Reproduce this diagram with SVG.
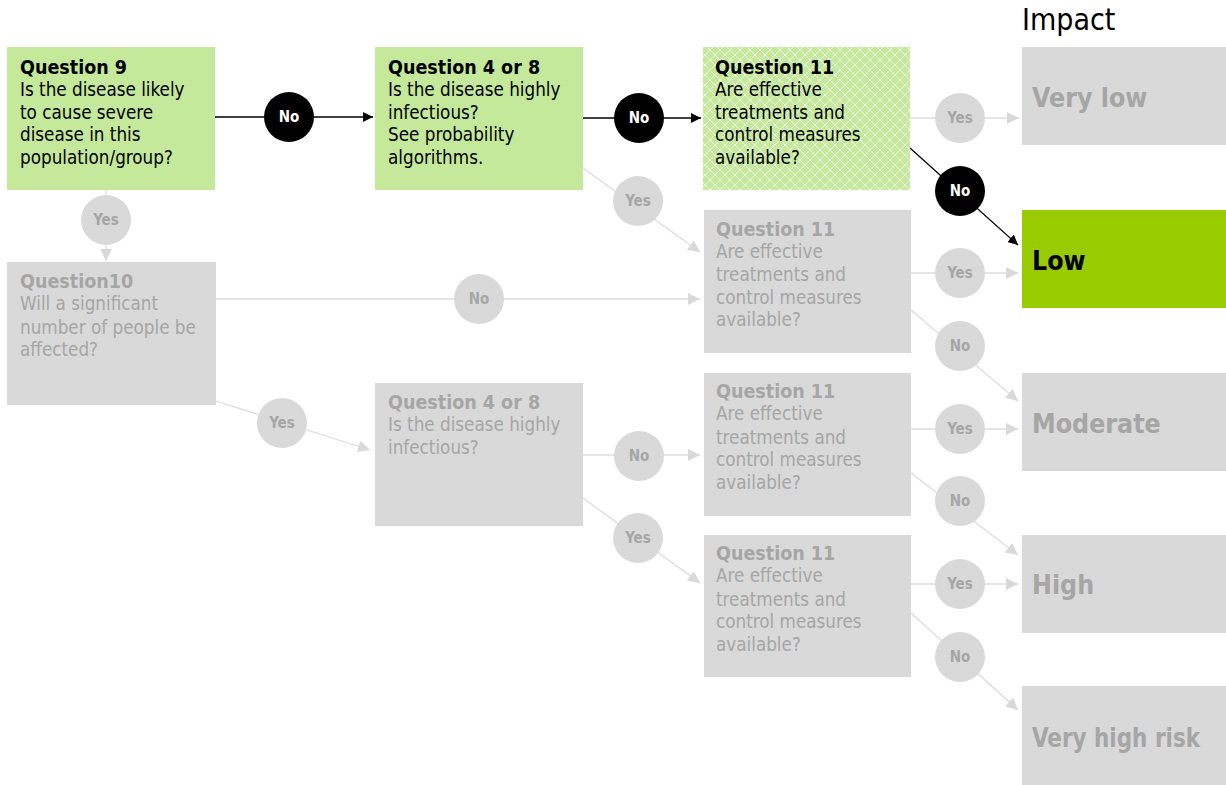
<svg xmlns="http://www.w3.org/2000/svg" width="1226" height="785" viewBox="0 0 1226 785">
<style>
text{font-family:"DejaVu Sans Condensed","DejaVu Sans",Verdana,sans-serif;}
.bt{font-size:18.7px;}
.tt{font-weight:bold;font-size:19.5px;}
.dk{fill:#000;}
.lg{fill:#a6a6a6;}
.gbox{fill:#d9d9d9;}
.green{fill:#c5e99b;}
.cl{font-size:15px;font-weight:bold;text-anchor:middle;}
.out{font-size:26.5px;font-weight:bold;}
.bl{stroke:#000;stroke-width:1.3;fill:none;}
.gl{stroke:#dcdcdc;stroke-width:1.3;fill:none;}
.bc{fill:#000;}
.gc{fill:#d9d9d9;}
</style>
<defs>
<marker id="ab" viewBox="0 0 10 10" refX="10" refY="5" markerWidth="10" markerHeight="10" markerUnits="userSpaceOnUse" orient="auto"><path d="M0,0L10,5L0,10z" fill="#000"/></marker>
<marker id="ag" viewBox="0 0 10 10" refX="10" refY="5" markerWidth="12" markerHeight="12" markerUnits="userSpaceOnUse" orient="auto"><path d="M0,0L10,5L0,10z" fill="#d9d9d9"/></marker>
<pattern id="hatch" width="10" height="10" patternUnits="userSpaceOnUse">
<rect width="10" height="10" fill="#c5e99b"/>
<path d="M0,0L10,10M10,0L0,10" stroke="#ffffff" stroke-opacity="0.75" stroke-width="1"/>
</pattern>
</defs>
<rect width="1226" height="785" fill="#fff"/>

<g id="connectors">
<line class="bl" x1="215" y1="117" x2="373" y2="117" marker-end="url(#ab)"/>
<line class="bl" x1="583" y1="118" x2="701" y2="118" marker-end="url(#ab)"/>
<line class="gl" x1="910" y1="118" x2="1019" y2="118" marker-end="url(#ag)"/>
<line class="bl" x1="910" y1="148" x2="1018" y2="245" marker-end="url(#ab)"/>
<line class="gl" x1="106" y1="190" x2="106" y2="261" marker-end="url(#ag)"/>
<line class="gl" x1="583" y1="168" x2="700" y2="252" marker-end="url(#ag)"/>
<line class="gl" x1="216" y1="299" x2="700" y2="299" marker-end="url(#ag)"/>
<line class="gl" x1="216" y1="401" x2="370" y2="450" marker-end="url(#ag)"/>
<line class="gl" x1="583" y1="455" x2="700" y2="455" marker-end="url(#ag)"/>
<line class="gl" x1="583" y1="498" x2="700" y2="583" marker-end="url(#ag)"/>
<line class="gl" x1="911" y1="273" x2="1018" y2="273" marker-end="url(#ag)"/>
<line class="gl" x1="911" y1="310" x2="1018" y2="401" marker-end="url(#ag)"/>
<line class="gl" x1="911" y1="429" x2="1018" y2="429" marker-end="url(#ag)"/>
<line class="gl" x1="911" y1="473" x2="1018" y2="555" marker-end="url(#ag)"/>
<line class="gl" x1="911" y1="584" x2="1018" y2="584" marker-end="url(#ag)"/>
<line class="gl" x1="911" y1="613" x2="1018" y2="710" marker-end="url(#ag)"/>
</g>

<g id="labels">
<circle class="bc" cx="289" cy="117" r="25"/><text class="cl" x="289" y="122" fill="#fff">No</text>
<circle class="bc" cx="639" cy="118" r="25"/><text class="cl" x="639" y="123" fill="#fff">No</text>
<circle class="gc" cx="960" cy="118" r="25"/><text class="cl lg" x="960" y="123">Yes</text>
<circle class="bc" cx="960" cy="191" r="25"/><text class="cl" x="960" y="196" fill="#fff">No</text>
<circle class="gc" cx="106" cy="220" r="25"/><text class="cl lg" x="106" y="225">Yes</text>
<circle class="gc" cx="638" cy="201" r="25"/><text class="cl lg" x="638" y="206">Yes</text>
<circle class="gc" cx="479" cy="299" r="25"/><text class="cl lg" x="479" y="304">No</text>
<circle class="gc" cx="960" cy="273" r="25"/><text class="cl lg" x="960" y="278">Yes</text>
<circle class="gc" cx="960" cy="346" r="25"/><text class="cl lg" x="960" y="351">No</text>
<circle class="gc" cx="282" cy="423" r="25"/><text class="cl lg" x="282" y="428">Yes</text>
<circle class="gc" cx="639" cy="456" r="25"/><text class="cl lg" x="639" y="461">No</text>
<circle class="gc" cx="638" cy="538" r="25"/><text class="cl lg" x="638" y="543">Yes</text>
<circle class="gc" cx="960" cy="429" r="25"/><text class="cl lg" x="960" y="434">Yes</text>
<circle class="gc" cx="960" cy="501" r="25"/><text class="cl lg" x="960" y="506">No</text>
<circle class="gc" cx="960" cy="584" r="25"/><text class="cl lg" x="960" y="589">Yes</text>
<circle class="gc" cx="960" cy="657" r="25"/><text class="cl lg" x="960" y="662">No</text>
</g>

<g id="q9">
<rect class="green" x="7" y="47" width="208" height="143"/>
<text class="bt dk"><tspan class="tt" x="20" y="74">Question 9</tspan><tspan x="20" y="96">Is the disease likely</tspan><tspan x="20" y="119">to cause severe</tspan><tspan x="20" y="141">disease in this</tspan><tspan x="20" y="164">population/group?</tspan></text>
</g>
<g id="q48a">
<rect class="green" x="375" y="47" width="208" height="143"/>
<text class="bt dk"><tspan class="tt" x="388" y="74">Question 4 or 8</tspan><tspan x="388" y="96">Is the disease highly</tspan><tspan x="388" y="119">infectious?</tspan><tspan x="388" y="141">See probability</tspan><tspan x="388" y="164">algorithms.</tspan></text>
</g>
<g id="q11a">
<rect x="703" y="47" width="207" height="143" fill="url(#hatch)"/>
<text class="bt dk"><tspan class="tt" x="715" y="74">Question 11</tspan><tspan x="715" y="96">Are effective</tspan><tspan x="715" y="119">treatments and</tspan><tspan x="715" y="141">control measures</tspan><tspan x="715" y="164">available?</tspan></text>
</g>
<g id="q11b">
<rect class="gbox" x="704" y="210" width="207" height="143"/>
<text class="bt lg"><tspan class="tt" x="716" y="236">Question 11</tspan><tspan x="716" y="258">Are effective</tspan><tspan x="716" y="281">treatments and</tspan><tspan x="716" y="304">control measures</tspan><tspan x="716" y="326">available?</tspan></text>
</g>
<g id="q10">
<rect class="gbox" x="7" y="262" width="209" height="143"/>
<text class="bt lg"><tspan class="tt" x="20" y="288">Question10</tspan><tspan x="20" y="310">Will a significant</tspan><tspan x="20" y="334">number of people be</tspan><tspan x="20" y="356">affected?</tspan></text>
</g>
<g id="q48b">
<rect class="gbox" x="375" y="383" width="208" height="143"/>
<text class="bt lg"><tspan class="tt" x="388" y="409">Question 4 or 8</tspan><tspan x="388" y="431">Is the disease highly</tspan><tspan x="388" y="454">infectious?</tspan></text>
</g>
<g id="q11c">
<rect class="gbox" x="704" y="373" width="207" height="143"/>
<text class="bt lg"><tspan class="tt" x="716" y="398">Question 11</tspan><tspan x="716" y="420">Are effective</tspan><tspan x="716" y="444">treatments and</tspan><tspan x="716" y="466">control measures</tspan><tspan x="716" y="489">available?</tspan></text>
</g>
<g id="q11d">
<rect class="gbox" x="704" y="535" width="207" height="142"/>
<text class="bt lg"><tspan class="tt" x="716" y="560">Question 11</tspan><tspan x="716" y="582">Are effective</tspan><tspan x="716" y="606">treatments and</tspan><tspan x="716" y="628">control measures</tspan><tspan x="716" y="651">available?</tspan></text>
</g>

<text x="1022" y="30" font-size="30" fill="#000">Impact</text>
<g id="verylow"><rect class="gbox" x="1022" y="47" width="204" height="98"/><text class="out lg" x="1032" y="107">Very low</text></g>
<g id="low"><rect x="1022" y="210" width="204" height="98" fill="#99cc00"/><text class="out dk" x="1032" y="270">Low</text></g>
<g id="moderate"><rect class="gbox" x="1022" y="373" width="204" height="98"/><text class="out lg" x="1032" y="433">Moderate</text></g>
<g id="high"><rect class="gbox" x="1022" y="535" width="204" height="98"/><text class="out lg" x="1032" y="594">High</text></g>
<g id="veryhigh"><rect class="gbox" x="1022" y="686" width="204" height="99"/><text class="out lg" x="1032" y="747" textLength="168" lengthAdjust="spacingAndGlyphs">Very high risk</text></g>
</svg>
